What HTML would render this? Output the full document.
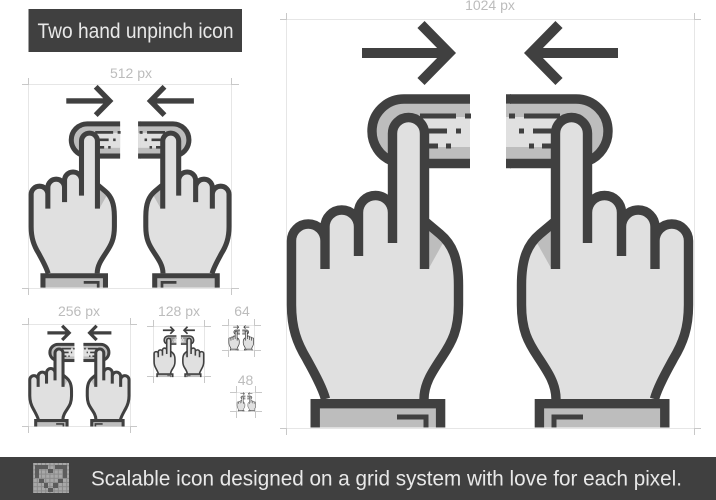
<!DOCTYPE html>
<html><head><meta charset="utf-8"><title>Two hand unpinch icon</title>
<style>html,body{margin:0;padding:0;background:#fff}svg{display:block}text{font-family:"Liberation Sans",sans-serif}
.s9{fill:none;stroke:#404040;stroke-width:calc(9.4px*var(--k,1))}
.s5{fill:none;stroke:#404040;stroke-width:calc(5px*var(--k,1))}
.s10{fill:none;stroke:#404040;stroke-width:calc(10px*var(--k,1))}</style></head>
<body>
<svg width="716" height="500" viewBox="0 0 716 500" xmlns="http://www.w3.org/2000/svg">
<defs>
<g id="h">
  <path d="M470 99H404A32 32 0 0 0 372 131A32 32 0 0 0 392 161L394 164H470Z" fill="#bdbdbd"/>
  <rect x="420" y="117" width="50" height="30" fill="#e0e0e0"/>
  <path class="s9" d="M470 99H404A32 32 0 0 0 372 131A32 32 0 0 0 392 161"/>
  <path class="s9" d="M425 163.5H470"/>
  <path class="s5" d="M420 116H456M465 116H471M425 131H447M456 131H461M425 146H438M446 146H451"/>
  <path d="M325.5 399C322 386 312 369 306.7 359C297 343 291.5 328 291.5 305V240.75A16.75 16.75 0 0 1 325 240.75V226.75A16.75 16.75 0 0 1 358.5 226.75V212.5A17 17 0 0 1 392.5 212.5V133.5A16 16 0 0 1 424.5 133.5V221L440 234C452 244 458.5 258 458.5 285V305C458.5 330 452 342 442 357C432 372 424 384 424 399Z" fill="#e0e0e0"/>
  <path d="M429 228L443 243L429 268Z" fill="#bdbdbd"/>
  <path class="s9" d="M325.5 399C322 386 312 369 306.7 359C297 343 291.5 328 291.5 305V240.75A16.75 16.75 0 0 1 325 240.75V269M325 240.75V226.75A16.75 16.75 0 0 1 358.5 226.75V256M358.5 226.75V212.5A17 17 0 0 1 392.5 212.5V243M392.5 212.5V133.5A16 16 0 0 1 424.5 133.5V269M424.5 221L440 234C452 244 458.5 258 458.5 285V305C458.5 330 452 342 442 357C432 372 424 384 424 399"/>
  <path d="M315.2 427.5V403.7H440.6V427.5Z" fill="#bdbdbd"/>
  <path class="s9" d="M315.2 427.5V403.7H440.6V427.5"/>
  <path class="s5" d="M397 417H426V427.5"/>
  <path class="s10" d="M362 53H450M421 24.5L449 53L421 81.5"/>
</g>
<g id="icon">
  <use href="#h"/>
  <g transform="translate(980 0) scale(-1 1)">
    <use href="#h"/>
    <rect x="469" y="104" width="5" height="55" fill="#bdbdbd"/>
    <rect x="469" y="117" width="5" height="30" fill="#e0e0e0"/>
    <path class="s9" d="M469 99H474M469 163.5H474"/>
    <path class="s5" d="M465 116H471"/>
  </g>
</g>
<pattern id="g" width="4.2" height="4.2" patternUnits="userSpaceOnUse"><rect width="4.2" height="4.2" fill="#8a8a8a"/><rect width="3.2" height="3.2" fill="#a8a8a8"/></pattern>
</defs>

<!-- Guides -->
<g fill="none" stroke="#e6e6e6" stroke-width="1">
  <rect x="286.5" y="19.5" width="408" height="409"/>
  <rect x="28.5" y="84.5" width="203" height="204"/>
  <rect x="28.5" y="324.5" width="102" height="102"/>
  <rect x="153.5" y="326.5" width="51" height="50"/>
  <rect x="228.5" y="325.5" width="26" height="25"/>
  <rect x="236.5" y="392.5" width="19" height="19"/>
</g>
<g fill="none" stroke="#c8c8c8" stroke-width="1">
  <path d="M280 19.5H286.5V13M694.5 13V19.5H701M280 428.5H286.5V435M694.5 435V428.5H701"/>
  <path d="M22 84.5H28.5V78M231.5 78V84.5H239M22 288.5H28.5V295M231.5 295V288.5H239"/>
  <path d="M22 324.5H28.5V318M130.5 318V324.5H137M22 426.5H28.5V433M130.5 433V426.5H137"/>
  <path d="M147 326.5H153.5V320M204.5 320V326.5H211M147 376.5H153.5V383M204.5 383V376.5H211"/>
  <path d="M222 325.5H228.5V319M254.5 319V325.5H261M222 350.5H228.5V357M254.5 357V350.5H261"/>
  <path d="M230 392.5H236.5V386M255.5 386V392.5H262M230 411.5H236.5V418M255.5 418V411.5H262"/>
</g>

<!-- Icons -->
<use href="#icon"/>
<use href="#icon" style="--k:1.08" transform="translate(28.4 84) scale(.4985) translate(-286 -19)"/>
<use href="#icon" style="--k:1.3" transform="translate(28.4 324.4) scale(.25) translate(-286 -19)"/>
<use href="#icon" style="--k:1.35" transform="translate(153.4 326) scale(.125) translate(-286 -19)"/>
<use href="#icon" style="--k:1.2" transform="translate(228.5 325) scale(.0625) translate(-286 -19)"/>
<use href="#icon" style="--k:1.1" transform="translate(236.8 392.2) scale(.047) translate(-286 -19)"/>

<!-- Size labels -->
<g fill="#bcbcbc" text-anchor="middle" font-size="14">
  <text x="490" y="10">1024 px</text>
  <text x="131" y="78">512 px</text>
  <text x="79" y="316">256 px</text>
  <text x="179" y="316">128 px</text>
  <text x="242" y="316">64</text>
  <text x="245.5" y="385">48</text>
</g>

<!-- Title -->
<rect x="28.5" y="9" width="213.5" height="43" fill="#404040"/>
<text x="37.5" y="38" font-size="21" fill="#e8e8e8" textLength="196" lengthAdjust="spacingAndGlyphs">Two hand unpinch icon</text>

<!-- Footer -->
<rect x="0" y="457" width="716" height="43" fill="#404040"/>
<rect x="33" y="463" width="36" height="30" fill="url(#g)"/>
<g fill="#5c5c5c">
  <rect x="35" y="465" width="13" height="4"/><rect x="55" y="465" width="12" height="4"/>
  <rect x="48" y="469" width="5" height="4"/><rect x="35" y="469" width="4" height="9"/><rect x="63" y="469" width="4" height="9"/>
  <rect x="39" y="479" width="5" height="4"/><rect x="58" y="479" width="5" height="4"/>
  <rect x="44" y="483" width="4" height="5"/><rect x="53" y="483" width="5" height="5"/><rect x="48" y="488" width="5" height="4"/>
</g>
<text x="91" y="485.5" font-size="21" fill="#e8e8e8" textLength="591" lengthAdjust="spacingAndGlyphs">Scalable icon designed on a grid system with love for each pixel.</text>
</svg>
</body></html>
